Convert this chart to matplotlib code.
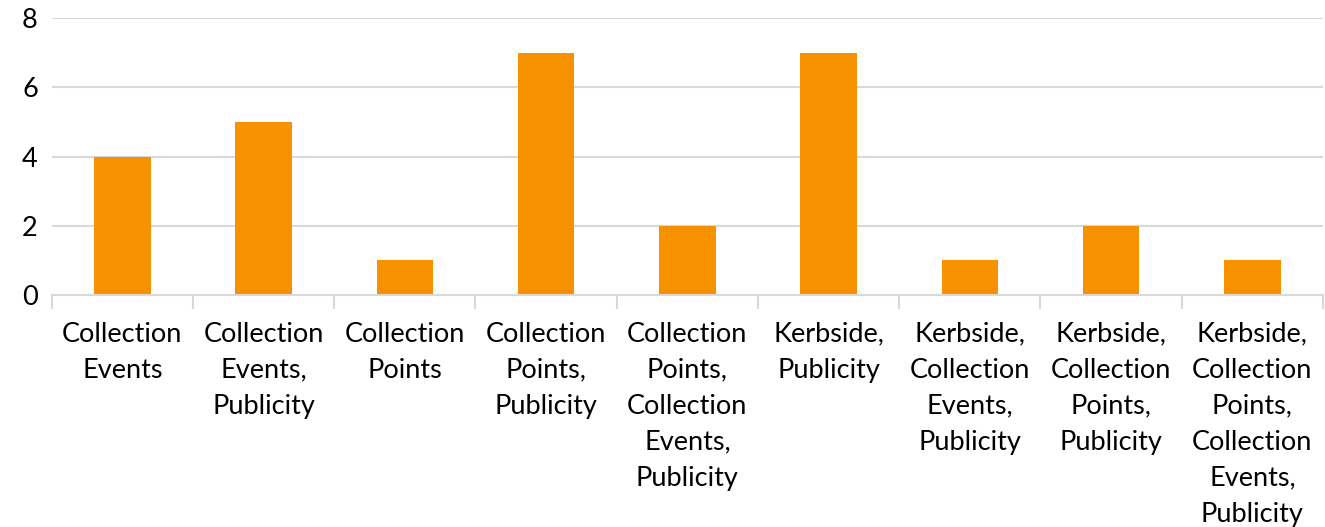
import numpy as np
import matplotlib.pyplot as plt

categories = ["Collection\nEvents",
              "Collection\nEvents,\nPublicity",
              "Collection\nPoints",
              "Collection\nPoints,\nPublicity",
              "Collection\nPoints,\nCollection\nEvents,\nPublicity",
              "Kerbside,\nPublicity",
              "Kerbside,\nCollection\nEvents,\nPublicity",
              "Kerbside,\nCollection\nPoints,\nPublicity",
              "Kerbside,\nCollection\nPoints,\nCollection\nEvents,\nPublicity"]
counts = [4, 5, 1, 7, 2, 7, 1, 2, 1]

plt.rcParams['font.family'] = ['Lato', 'DejaVu Sans']
grid_col = '#D9D9D9'

fig = plt.figure(figsize=(13.25, 5.27), dpi=100)
ax = fig.add_axes([0.039, 0.44, 0.9595, 0.526])

x = np.arange(len(categories))
ax.bar(x, counts, width=0.4, color='#F79100', zorder=2)

ax.set_xlim(-0.5, len(categories) - 0.5)
ax.set_ylim(0, 8)
ax.set_yticks([0, 2, 4, 6, 8])
ax.yaxis.grid(True, color=grid_col, linewidth=1.5, zorder=0)

ax.set_xticks(x)
ax.set_xticklabels(categories, fontsize=19.5, linespacing=1.55)
ax.set_xticks(np.arange(-0.5, len(categories), 1.0), minor=True)
ax.tick_params(axis='x', which='major', length=0, pad=19)
ax.tick_params(axis='x', which='minor', length=10, width=1.5, color=grid_col)
ax.tick_params(axis='y', length=0, labelsize=19.5, pad=10)

for s in ['top', 'right', 'left']:
    ax.spines[s].set_visible(False)
ax.spines['bottom'].set_color(grid_col)
ax.spines['bottom'].set_linewidth(1.5)

fig.savefig('out.png', dpi=100)
